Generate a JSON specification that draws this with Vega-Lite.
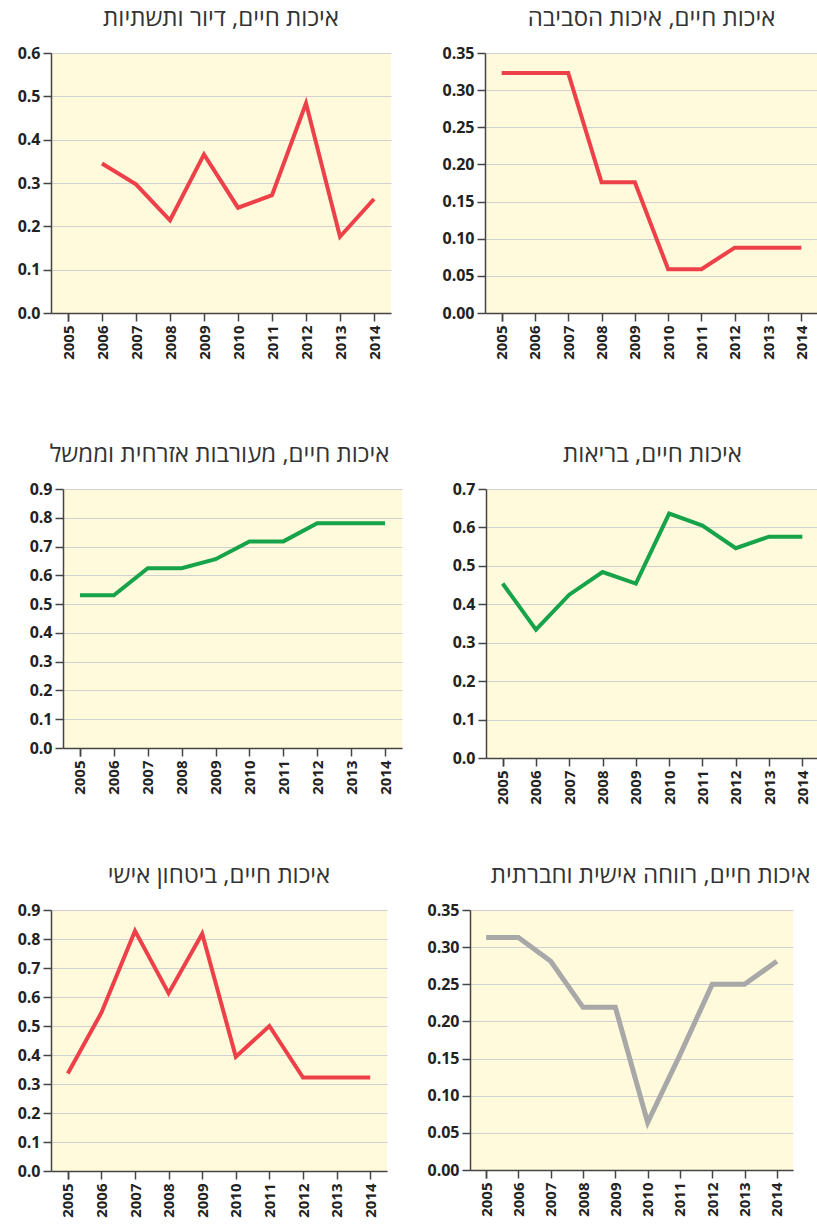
{
  "$schema": "https://vega.github.io/schema/vega-lite/v6.json",
  "padding": {"left": 0, "top": 7, "right": 0, "bottom": 0},
  "background": "white",
  "data": {"values": [
    {"panel": "housing", "year": "2006", "value": 0.345},
    {"panel": "housing", "year": "2007", "value": 0.297},
    {"panel": "housing", "year": "2008", "value": 0.214},
    {"panel": "housing", "year": "2009", "value": 0.366},
    {"panel": "housing", "year": "2010", "value": 0.243},
    {"panel": "housing", "year": "2011", "value": 0.272},
    {"panel": "housing", "year": "2012", "value": 0.484},
    {"panel": "housing", "year": "2013", "value": 0.176},
    {"panel": "housing", "year": "2014", "value": 0.263},
    {"panel": "env", "year": "2005", "value": 0.323},
    {"panel": "env", "year": "2006", "value": 0.323},
    {"panel": "env", "year": "2007", "value": 0.323},
    {"panel": "env", "year": "2008", "value": 0.176},
    {"panel": "env", "year": "2009", "value": 0.176},
    {"panel": "env", "year": "2010", "value": 0.059},
    {"panel": "env", "year": "2011", "value": 0.059},
    {"panel": "env", "year": "2012", "value": 0.088},
    {"panel": "env", "year": "2013", "value": 0.088},
    {"panel": "env", "year": "2014", "value": 0.088},
    {"panel": "civic", "year": "2005", "value": 0.531},
    {"panel": "civic", "year": "2006", "value": 0.531},
    {"panel": "civic", "year": "2007", "value": 0.625},
    {"panel": "civic", "year": "2008", "value": 0.625},
    {"panel": "civic", "year": "2009", "value": 0.656},
    {"panel": "civic", "year": "2010", "value": 0.718},
    {"panel": "civic", "year": "2011", "value": 0.718},
    {"panel": "civic", "year": "2012", "value": 0.781},
    {"panel": "civic", "year": "2013", "value": 0.781},
    {"panel": "civic", "year": "2014", "value": 0.781},
    {"panel": "health", "year": "2005", "value": 0.454},
    {"panel": "health", "year": "2006", "value": 0.334},
    {"panel": "health", "year": "2007", "value": 0.425},
    {"panel": "health", "year": "2008", "value": 0.484},
    {"panel": "health", "year": "2009", "value": 0.454},
    {"panel": "health", "year": "2010", "value": 0.636},
    {"panel": "health", "year": "2011", "value": 0.605},
    {"panel": "health", "year": "2012", "value": 0.546},
    {"panel": "health", "year": "2013", "value": 0.576},
    {"panel": "health", "year": "2014", "value": 0.576},
    {"panel": "safety", "year": "2005", "value": 0.336},
    {"panel": "safety", "year": "2006", "value": 0.546},
    {"panel": "safety", "year": "2007", "value": 0.828},
    {"panel": "safety", "year": "2008", "value": 0.613},
    {"panel": "safety", "year": "2009", "value": 0.818},
    {"panel": "safety", "year": "2010", "value": 0.394},
    {"panel": "safety", "year": "2011", "value": 0.5},
    {"panel": "safety", "year": "2012", "value": 0.322},
    {"panel": "safety", "year": "2013", "value": 0.322},
    {"panel": "safety", "year": "2014", "value": 0.322},
    {"panel": "welfare", "year": "2005", "value": 0.313},
    {"panel": "welfare", "year": "2006", "value": 0.313},
    {"panel": "welfare", "year": "2007", "value": 0.281},
    {"panel": "welfare", "year": "2008", "value": 0.219},
    {"panel": "welfare", "year": "2009", "value": 0.219},
    {"panel": "welfare", "year": "2010", "value": 0.064},
    {"panel": "welfare", "year": "2011", "value": 0.155},
    {"panel": "welfare", "year": "2012", "value": 0.25},
    {"panel": "welfare", "year": "2013", "value": 0.25},
    {"panel": "welfare", "year": "2014", "value": 0.281}
  ]},
  "spacing": 56,
  "vconcat": [
    {
      "spacing": 10,
      "hconcat": [
        {
          "width": 1, "height": 1,
          "view": {"fill": "white", "stroke": null},
          "transform": [{"filter": "false"}],
          "mark": {"type": "point", "opacity": 0},
          "encoding": {}
        },
        {
          "title": {"text": "איכות חיים, דיור ותשתיות"},
          "width": 340, "height": 260,
          "transform": [{"filter": "datum.panel === 'housing'"}],
          "mark": {"type": "line", "color": "#EE4049"},
          "encoding": {
            "x": {"field": "year", "type": "ordinal", "scale": {"domain": ["2005","2006","2007","2008","2009","2010","2011","2012","2013","2014"], "paddingInner": 0, "paddingOuter": 0}, "axis": {"minExtent": 74, "maxExtent": 74}},
            "y": {"field": "value", "type": "quantitative", "scale": {"domain": [0, 0.6], "nice": false}, "axis": {"values": [0,0.1,0.2,0.3,0.4,0.5,0.6], "format": ".1f", "minExtent": 40, "maxExtent": 40}}
          }
        },
        {
          "title": {"text": "איכות חיים, איכות הסביבה"},
          "width": 333, "height": 260,
          "transform": [{"filter": "datum.panel === 'env'"}],
          "mark": {"type": "line", "color": "#EE4049"},
          "encoding": {
            "x": {"field": "year", "type": "ordinal", "scale": {"domain": ["2005","2006","2007","2008","2009","2010","2011","2012","2013","2014"], "paddingInner": 0, "paddingOuter": 0}, "axis": {"minExtent": 74, "maxExtent": 74}},
            "y": {"field": "value", "type": "quantitative", "scale": {"domain": [0, 0.35], "nice": false}, "axis": {"values": [0,0.05,0.1,0.15,0.2,0.25,0.3,0.35], "format": ".2f", "minExtent": 84, "maxExtent": 84}}
          }
        }
      ]
    },
    {
      "spacing": 10,
      "hconcat": [
        {
          "width": 13, "height": 1,
          "view": {"fill": "white", "stroke": null},
          "transform": [{"filter": "false"}],
          "mark": {"type": "point", "opacity": 0},
          "encoding": {}
        },
        {
          "title": {"text": "איכות חיים, מעורבות אזרחית וממשל", "dx": -13},
          "width": 339, "height": 259,
          "transform": [{"filter": "datum.panel === 'civic'"}],
          "mark": {"type": "line", "color": "#17A34A"},
          "encoding": {
            "x": {"field": "year", "type": "ordinal", "scale": {"domain": ["2005","2006","2007","2008","2009","2010","2011","2012","2013","2014"], "paddingInner": 0, "paddingOuter": 0}, "axis": {"minExtent": 50, "maxExtent": 50}},
            "y": {"field": "value", "type": "quantitative", "scale": {"domain": [0, 0.9], "nice": false}, "axis": {"values": [0,0.1,0.2,0.3,0.4,0.5,0.6,0.7,0.8,0.9], "format": ".1f", "minExtent": 40, "maxExtent": 40}}
          }
        },
        {
          "title": {"text": "איכות חיים, בריאות"},
          "width": 333, "height": 269,
          "transform": [{"filter": "datum.panel === 'health'"}],
          "mark": {"type": "line", "color": "#17A34A"},
          "encoding": {
            "x": {"field": "year", "type": "ordinal", "scale": {"domain": ["2005","2006","2007","2008","2009","2010","2011","2012","2013","2014"], "paddingInner": 0, "paddingOuter": 0}, "axis": {"minExtent": 50, "maxExtent": 50}},
            "y": {"field": "value", "type": "quantitative", "scale": {"domain": [0, 0.7], "nice": false}, "axis": {"values": [0,0.1,0.2,0.3,0.4,0.5,0.6,0.7], "format": ".1f", "minExtent": 74, "maxExtent": 74}}
          }
        }
      ]
    },
    {
      "spacing": 10,
      "hconcat": [
        {
          "width": 1, "height": 1,
          "view": {"fill": "white", "stroke": null},
          "transform": [{"filter": "false"}],
          "mark": {"type": "point", "opacity": 0},
          "encoding": {}
        },
        {
          "title": {"text": "איכות חיים, ביטחון אישי"},
          "width": 336, "height": 261,
          "transform": [{"filter": "datum.panel === 'safety'"}],
          "mark": {"type": "line", "color": "#EE4049"},
          "encoding": {
            "x": {"field": "year", "type": "ordinal", "scale": {"domain": ["2005","2006","2007","2008","2009","2010","2011","2012","2013","2014"], "paddingInner": 0, "paddingOuter": 0}},
            "y": {"field": "value", "type": "quantitative", "scale": {"domain": [0, 0.9], "nice": false}, "axis": {"values": [0,0.1,0.2,0.3,0.4,0.5,0.6,0.7,0.8,0.9], "format": ".1f", "minExtent": 40, "maxExtent": 40}}
          }
        },
        {
          "title": {"text": "איכות חיים, רווחה אישית וחברתית", "dx": 19},
          "width": 323, "height": 260,
          "transform": [{"filter": "datum.panel === 'welfare'"}],
          "mark": {"type": "line", "color": "#A8A8A8", "strokeWidth": 5},
          "encoding": {
            "x": {"field": "year", "type": "ordinal", "scale": {"domain": ["2005","2006","2007","2008","2009","2010","2011","2012","2013","2014"], "paddingInner": 0, "paddingOuter": 0}},
            "y": {"field": "value", "type": "quantitative", "scale": {"domain": [0, 0.35], "nice": false}, "axis": {"values": [0,0.05,0.1,0.15,0.2,0.25,0.3,0.35], "format": ".2f", "minExtent": 73, "maxExtent": 73}}
          }
        }
      ]
    }
  ],
  "config": {
    "view": {"stroke": null, "fill": "#FFFADC"},
    "line": {"strokeWidth": 4},
    "axis": {"title": null, "labelFont": "Open Sans", "labelFontWeight": "bold", "labelColor": "#222222", "domainColor": "#444444", "domainWidth": 1.5, "tickColor": "#444444", "tickWidth": 1.5, "tickSize": 8, "labelPadding": 3},
    "axisX": {"labelAngle": -90, "labelFontSize": 15, "tickBand": "extent", "grid": false, "labelPadding": 4},
    "axisY": {"labelFontSize": 16, "grid": true, "gridColor": "#D0D0D0", "gridWidth": 1.2},
    "title": {"font": "Open Sans", "fontSize": 24, "fontWeight": "normal", "color": "#333333", "anchor": "middle", "offset": 14}
  }
}
